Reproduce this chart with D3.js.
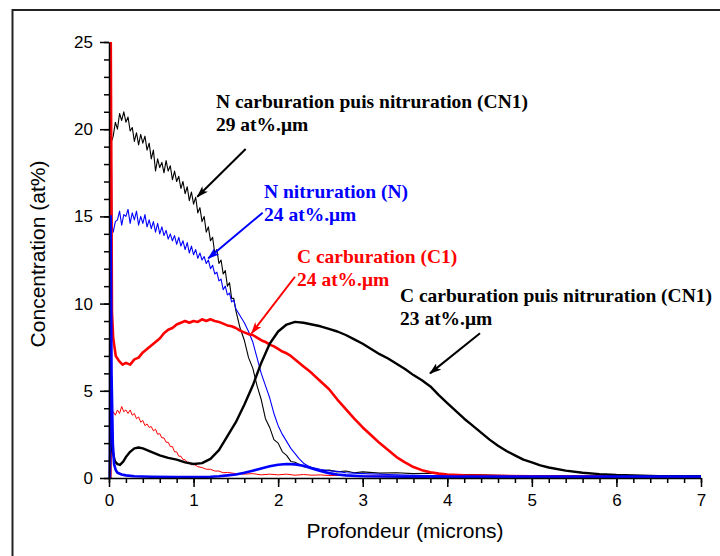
<!DOCTYPE html>
<html>
<head>
<meta charset="utf-8">
<script src="https://cdn.jsdelivr.net/npm/d3@7"></script>
<style>
  body { margin: 0; background: #fff; }
  svg { display: block; }
</style>
</head>
<body>
<script>
// depth (microns), concentration (at%)

// N, carburation then nitriding (CN1) - thin black
const nCN1 = [
  [0.015, 0], [0.03, 19.3], [0.05, 19.6], [0.075, 20.4], [0.1, 20.0], [0.125, 20.9],
  [0.15, 20.5], [0.175, 21.0], [0.2, 20.4], [0.225, 20.7], [0.25, 19.9], [0.275, 20.1],
  [0.3, 19.3], [0.325, 19.8], [0.35, 19.1], [0.375, 19.7], [0.4, 19.2], [0.425, 19.6],
  [0.45, 18.8], [0.475, 19.2], [0.5, 18.3], [0.525, 18.8], [0.55, 17.6], [0.575, 18.3],
  [0.6, 17.8], [0.625, 18.1], [0.65, 17.5], [0.675, 18.2], [0.7, 17.6], [0.725, 17.9],
  [0.75, 17.1], [0.775, 17.6], [0.8, 17.0], [0.825, 17.3], [0.85, 16.6], [0.875, 17.0],
  [0.9, 16.3], [0.925, 16.7], [0.95, 15.9], [0.975, 16.4], [1.0, 15.7], [1.025, 16.1],
  [1.05, 15.2], [1.075, 15.5], [1.1, 14.7], [1.125, 15.0], [1.15, 14.1], [1.175, 14.4],
  [1.2, 13.6], [1.225, 13.8], [1.25, 12.9], [1.275, 13.1], [1.3, 12.3], [1.325, 12.5],
  [1.35, 11.7], [1.375, 11.9], [1.4, 11.0], [1.425, 11.2], [1.45, 10.3], [1.475, 10.3],
  [1.5, 9.6], [1.55, 8.6], [1.6, 7.9], [1.65, 6.9], [1.7, 6.3], [1.75, 5.3], [1.8, 4.5],
  [1.85, 3.4], [1.9, 2.9], [1.95, 2.2], [2.0, 2.0], [2.05, 1.5], [2.1, 1.3], [2.15, 0.95],
  [2.2, 0.9], [2.3, 0.65], [2.4, 0.6], [2.5, 0.42], [2.6, 0.45], [2.7, 0.35], [2.8, 0.4],
  [2.9, 0.3], [3.0, 0.35], [3.2, 0.28], [3.4, 0.3], [3.6, 0.25], [3.8, 0.27], [4.0, 0.2],
  [4.3, 0.2], [4.6, 0.15], [5.0, 0.12], [5.5, 0.1], [6.0, 0.1], [7.0, 0.08]
];

// N, nitriding only (N) - thin blue
const nN = [
  [0.015, 0], [0.025, 21.3], [0.035, 14.5], [0.05, 14.1], [0.075, 14.7], [0.1, 14.8],
  [0.125, 15.3], [0.15, 14.5], [0.175, 15.1], [0.2, 15.0], [0.225, 15.4], [0.25, 14.6],
  [0.275, 15.2], [0.3, 14.8], [0.325, 15.3], [0.35, 14.5], [0.375, 15.0], [0.4, 14.6],
  [0.425, 15.1], [0.45, 14.4], [0.475, 14.8], [0.5, 14.3], [0.525, 14.7], [0.55, 14.1],
  [0.575, 14.6], [0.6, 14.0], [0.625, 14.4], [0.65, 13.9], [0.675, 14.2], [0.7, 13.7],
  [0.725, 14.0], [0.75, 13.6], [0.775, 13.9], [0.8, 13.4], [0.825, 13.8], [0.85, 13.3],
  [0.875, 13.6], [0.9, 13.1], [0.925, 13.5], [0.95, 12.9], [0.975, 13.3], [1.0, 12.8],
  [1.025, 13.1], [1.05, 12.6], [1.075, 12.9], [1.1, 12.5], [1.125, 12.7], [1.15, 12.3],
  [1.175, 12.5], [1.2, 12.0], [1.225, 12.2], [1.25, 11.7], [1.275, 11.8], [1.3, 11.3],
  [1.325, 11.4], [1.35, 10.8], [1.375, 11.0], [1.4, 10.5], [1.425, 10.6], [1.45, 10.1],
  [1.475, 10.2], [1.5, 9.7], [1.55, 9.3], [1.6, 8.9], [1.65, 8.4], [1.7, 7.8], [1.75, 6.9],
  [1.8, 6.0], [1.85, 5.3], [1.9, 4.6], [1.95, 3.7], [2.0, 3.0], [2.05, 2.5], [2.1, 2.1],
  [2.15, 1.7], [2.2, 1.4], [2.25, 1.1], [2.3, 0.85], [2.35, 0.7], [2.4, 0.6], [2.5, 0.5],
  [2.6, 0.42], [2.7, 0.38], [2.8, 0.3], [3.0, 0.25], [3.3, 0.2], [3.6, 0.15], [4.0, 0.12],
  [5.0, 0.1], [7.0, 0.08]
];

// C, nitriding only sample - thin red
const cN = [
  [0.02, 0], [0.03, 3.4], [0.05, 3.8], [0.075, 3.6], [0.1, 3.9], [0.125, 3.7], [0.15, 4.1],
  [0.175, 3.8], [0.2, 3.9], [0.225, 3.7], [0.25, 3.9], [0.275, 3.6], [0.3, 3.7], [0.325, 3.4],
  [0.35, 3.5], [0.375, 3.2], [0.4, 3.3], [0.425, 3.0], [0.45, 3.1], [0.475, 2.9], [0.5, 2.95],
  [0.525, 2.7], [0.55, 2.8], [0.575, 2.5], [0.6, 2.55], [0.625, 2.3], [0.65, 2.3], [0.675, 2.05],
  [0.7, 2.05], [0.725, 1.8], [0.75, 1.8], [0.775, 1.5], [0.8, 1.5], [0.825, 1.25], [0.85, 1.25],
  [0.875, 1.05], [0.9, 1.05], [0.925, 0.9], [0.95, 0.9], [0.975, 0.75], [1.0, 0.8], [1.05, 0.65],
  [1.1, 0.6], [1.15, 0.5], [1.2, 0.5], [1.25, 0.4], [1.3, 0.4], [1.35, 0.3], [1.4, 0.32],
  [1.5, 0.25], [1.6, 0.22], [1.7, 0.25], [1.8, 0.18], [1.9, 0.22], [2.0, 0.18], [2.1, 0.22],
  [2.2, 0.16], [2.3, 0.2], [2.4, 0.16], [2.5, 0.18], [2.6, 0.14], [2.8, 0.15], [3.0, 0.12],
  [3.5, 0.1], [4.0, 0.1], [5.0, 0.08], [7.0, 0.08]
];

// C, carburation only (C1) - thick red
const cC1 = [
  [0.015, 0], [0.02, 26], [0.035, 9.5], [0.05, 8.0], [0.08, 7.0], [0.12, 6.7], [0.16, 6.5],
  [0.2, 6.6], [0.25, 6.5], [0.3, 6.8], [0.35, 6.9], [0.4, 7.2], [0.45, 7.4], [0.5, 7.6],
  [0.55, 7.8], [0.6, 8.0], [0.65, 8.3], [0.7, 8.5], [0.75, 8.6], [0.8, 8.8], [0.85, 8.9],
  [0.9, 9.0], [0.95, 8.9], [1.0, 9.0], [1.05, 8.95], [1.1, 9.1], [1.15, 9.0], [1.2, 9.1],
  [1.25, 9.0], [1.3, 8.95], [1.35, 8.85], [1.4, 8.75], [1.45, 8.7], [1.5, 8.6], [1.55, 8.45],
  [1.6, 8.35], [1.65, 8.25], [1.7, 8.2], [1.75, 8.05], [1.8, 7.9], [1.85, 7.8], [1.9, 7.65],
  [1.95, 7.55], [2.0, 7.4], [2.05, 7.25], [2.1, 7.15], [2.15, 7.0], [2.2, 6.8], [2.25, 6.6],
  [2.3, 6.4], [2.35, 6.2], [2.4, 6.0], [2.5, 5.55], [2.6, 5.1], [2.7, 4.5], [2.8, 3.95],
  [2.9, 3.4], [3.0, 2.9], [3.1, 2.45], [3.2, 2.0], [3.3, 1.6], [3.4, 1.2], [3.5, 0.9],
  [3.6, 0.63], [3.7, 0.45], [3.8, 0.33], [3.9, 0.25], [4.0, 0.2], [4.2, 0.15], [4.5, 0.12],
  [5.0, 0.1], [6.0, 0.08], [7.0, 0.08]
];

// C, carburation then nitriding (CN1) - thick black
const cCN1 = [
  [0.01, 0], [0.02, 3.5], [0.04, 1.6], [0.07, 0.95], [0.1, 0.8], [0.13, 0.75], [0.17, 0.95],
  [0.2, 1.2], [0.25, 1.5], [0.3, 1.7], [0.35, 1.75], [0.4, 1.7], [0.5, 1.5], [0.6, 1.3],
  [0.7, 1.15], [0.8, 1.05], [0.9, 0.9], [1.0, 0.8], [1.1, 0.85], [1.2, 1.1], [1.3, 1.6],
  [1.4, 2.4], [1.5, 3.2], [1.6, 4.2], [1.7, 5.3], [1.8, 6.6], [1.9, 7.7], [2.0, 8.4],
  [2.1, 8.8], [2.2, 8.95], [2.3, 8.9], [2.4, 8.8], [2.5, 8.7], [2.6, 8.55], [2.7, 8.4],
  [2.8, 8.2], [2.9, 7.95], [3.0, 7.7], [3.1, 7.4], [3.2, 7.1], [3.3, 6.85], [3.4, 6.55],
  [3.5, 6.25], [3.6, 5.9], [3.7, 5.6], [3.8, 5.25], [3.9, 4.75], [4.0, 4.3], [4.1, 3.85],
  [4.2, 3.4], [4.3, 3.0], [4.4, 2.6], [4.5, 2.2], [4.6, 1.85], [4.7, 1.55], [4.8, 1.3],
  [4.9, 1.05], [5.0, 0.9], [5.1, 0.72], [5.2, 0.6], [5.4, 0.42], [5.6, 0.3], [5.8, 0.22],
  [6.0, 0.17], [6.5, 0.1], [7.0, 0.1]
];

// C, nitriding only sample - thick blue
const cNblue = [
  [0.01, 0], [0.02, 15], [0.03, 6], [0.045, 2], [0.06, 0.8], [0.08, 0.45], [0.1, 0.3],
  [0.15, 0.2], [0.2, 0.15], [0.3, 0.1], [0.5, 0.07], [0.8, 0.05], [1.0, 0.05], [1.2, 0.07],
  [1.3, 0.1], [1.4, 0.15], [1.5, 0.2], [1.6, 0.3], [1.7, 0.42], [1.8, 0.55], [1.9, 0.67],
  [2.0, 0.76], [2.1, 0.8], [2.2, 0.78], [2.3, 0.7], [2.4, 0.55], [2.5, 0.4], [2.6, 0.28],
  [2.7, 0.2], [2.8, 0.15], [3.0, 0.1], [3.5, 0.08], [7.0, 0.08]
];

const xTicks = [0, 1, 2, 3, 4, 5, 6, 7];
const yTicks = [0, 5, 10, 15, 20, 25];

const noteLines = [
  ["N carburation puis nitruration (CN1)", "29 at%.\u03bcm"],
  ["N nitruration (N)", "24 at%.\u03bcm"],
  ["C carburation (C1)", "24 at%.\u03bcm"],
  ["C carburation puis nitruration (CN1)", "23 at%.\u03bcm"]
];

const margin = { top: 42, right: 19, bottom: 78, left: 109 };
const width = 720;
const height = 556;
const innerW = width - margin.left - margin.right;
const innerH = height - margin.top - margin.bottom;

const svg = d3
  .select("body")
  .append("svg")
  .attr("width", width)
  .attr("height", height);

// page frame
svg
  .append("path")
  .attr("d", "M12.5,556 L12.5,10 L720,10")
  .attr("fill", "none")
  .attr("stroke", "#222")
  .attr("stroke-width", 2);

const g = svg
  .append("g")
  .attr("transform", `translate(${margin.left},${margin.top})`);

const x = d3.scaleLinear().domain([0, 7]).range([0, innerW]);
const y = d3.scaleLinear().domain([0, 25]).range([innerH, 0]);

g.append("clipPath")
  .attr("id", "plot")
  .append("rect")
  .attr("x", -2)
  .attr("y", 0)
  .attr("width", innerW + 4)
  .attr("height", innerH + 2);

const line = d3
  .line()
  .x((d) => x(d[0]))
  .y((d) => y(d[1]));

const series = [
  { data: cN, color: "#ff0000", w: 1 },
  { data: nCN1, color: "#000000", w: 1.1 },
  { data: nN, color: "#0000ff", w: 1.1 },
  { data: cC1, color: "#ff0000", w: 2.6 },
  { data: cCN1, color: "#000000", w: 2.4 },
  { data: cNblue, color: "#0000ff", w: 2.6 }
];

g.append("g")
  .attr("clip-path", "url(#plot)")
  .selectAll("path")
  .data(series)
  .enter()
  .append("path")
  .attr("d", (d) => line(d.data))
  .attr("fill", "none")
  .attr("stroke", (d) => d.color)
  .attr("stroke-width", (d) => d.w)
  .attr("stroke-linejoin", "round");

// axes: major ticks with labels, minor ticks without
const tickFont = "'Liberation Sans', Arial, Helvetica, sans-serif";

g.append("g")
  .attr("transform", `translate(0,${innerH})`)
  .call(d3.axisBottom(x).tickValues(d3.range(0, 7.01, 0.2)).tickSize(5).tickFormat(""))
  .call((a) => a.select(".domain").remove());
g.append("g")
  .attr("transform", `translate(0,${innerH})`)
  .call(d3.axisBottom(x).tickValues(xTicks).tickSize(9).tickSizeOuter(0).tickPadding(7).tickFormat(d3.format("d")));

g.append("g")
  .call(d3.axisLeft(y).tickValues(d3.range(0, 26, 1)).tickSize(5).tickFormat(""))
  .call((a) => a.select(".domain").remove());
g.append("g")
  .call(d3.axisLeft(y).tickValues(yTicks).tickSize(9).tickSizeOuter(0).tickPadding(7).tickFormat(d3.format("d")));

g.selectAll(".tick line, .domain").attr("stroke", "#000").attr("stroke-width", 1.5);
g.selectAll(".tick text")
  .attr("font-family", tickFont)
  .attr("font-size", 17)
  .attr("fill", "#000");

// axis titles
svg
  .append("text")
  .attr("x", 405)
  .attr("y", 538)
  .attr("text-anchor", "middle")
  .attr("font-family", tickFont)
  .attr("font-size", 21)
  .text("Profondeur (microns)");

svg
  .append("text")
  .attr("transform", "translate(45,254) rotate(-90)")
  .attr("text-anchor", "middle")
  .attr("font-family", tickFont)
  .attr("font-size", 21)
  .text("Concentration (at%)");

// annotations (positions in data units)
const notes = [
  { text: noteLines[0], color: "#000000", at: [1.265, 21.22], from: [1.616, 18.86], to: [1.044, 16.13] },
  { text: noteLines[1], color: "#0000ff", at: [1.833, 16.06], from: [1.817, 15.21], to: [1.174, 12.6] },
  { text: noteLines[2], color: "#ff0000", at: [2.223, 12.33], from: [2.199, 11.54], to: [1.687, 8.3] },
  { text: noteLines[3], color: "#000000", at: [3.441, 10.09], from: [4.387, 8.3], to: [3.796, 6.0] }
];

const defs = svg.append("defs");
notes.forEach((n, i) => {
  defs
    .append("marker")
    .attr("id", "arrow" + i)
    .attr("markerUnits", "userSpaceOnUse")
    .attr("viewBox", "0 0 12 8")
    .attr("refX", 11)
    .attr("refY", 4)
    .attr("markerWidth", 12)
    .attr("markerHeight", 8)
    .attr("orient", "auto")
    .append("path")
    .attr("d", "M0,0 L12,4 L0,8 L3,4 Z")
    .attr("fill", n.color);
});

g.selectAll(".arrow")
  .data(notes)
  .enter()
  .append("line")
  .attr("x1", (d) => x(d.from[0]))
  .attr("y1", (d) => y(d.from[1]))
  .attr("x2", (d) => x(d.to[0]))
  .attr("y2", (d) => y(d.to[1]))
  .attr("stroke", (d) => d.color)
  .attr("stroke-width", 2)
  .attr("marker-end", (d, i) => `url(#arrow${i})`);

const labels = g
  .selectAll(".note")
  .data(notes)
  .enter()
  .append("text")
  .attr("font-family", "'Liberation Serif', 'Times New Roman', serif")
  .attr("font-weight", "bold")
  .attr("font-size", 19.5)
  .attr("fill", (d) => d.color);

labels
  .selectAll("tspan")
  .data((d) => d.text.map((t, k) => ({ t, k, d })))
  .enter()
  .append("tspan")
  .attr("x", (e) => x(e.d.at[0]))
  .attr("y", (e) => y(e.d.at[1]) + e.k * 23)
  .text((e) => e.t);
</script>
</body>
</html>
